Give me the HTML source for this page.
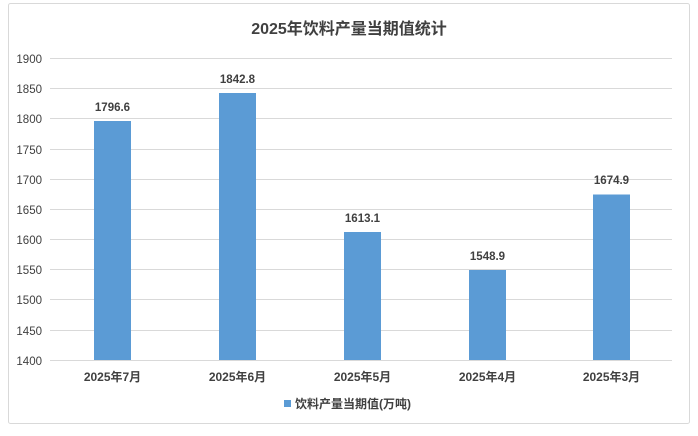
<!DOCTYPE html>
<html><head><meta charset="utf-8"><style>
body{margin:0;background:#fff;}
svg{display:block;font-family:"Liberation Sans","Noto Sans CJK SC",sans-serif;}
</style></head><body>
<svg width="698" height="436" viewBox="0 0 698 436">
<rect x="8.5" y="3.5" width="681" height="420" fill="#fff" stroke="#d9d9d9" rx="2"/>
<text x="349" y="34" text-anchor="middle" font-size="16" font-weight="bold" fill="#404040">2025年饮料产量当期值统计</text>
<g stroke="#d9d9d9" stroke-width="1">
<line x1="50" x2="672" y1="58.5" y2="58.5"/><line x1="50" x2="672" y1="88.5" y2="88.5"/>
<line x1="50" x2="672" y1="118.5" y2="118.5"/><line x1="50" x2="672" y1="149.5" y2="149.5"/>
<line x1="50" x2="672" y1="179.5" y2="179.5"/><line x1="50" x2="672" y1="209.5" y2="209.5"/>
<line x1="50" x2="672" y1="239.5" y2="239.5"/><line x1="50" x2="672" y1="269.5" y2="269.5"/>
<line x1="50" x2="672" y1="299.5" y2="299.5"/><line x1="50" x2="672" y1="330.5" y2="330.5"/>
<line x1="50" x2="672" y1="360.5" y2="360.5"/>
</g>
<g font-size="11.5" fill="#404040" text-anchor="end">
<text x="42" y="63">1900</text><text x="42" y="93">1850</text><text x="42" y="123">1800</text>
<text x="42" y="154">1750</text><text x="42" y="184">1700</text><text x="42" y="214">1650</text>
<text x="42" y="244">1600</text><text x="42" y="274">1550</text><text x="42" y="304">1500</text>
<text x="42" y="335">1450</text><text x="42" y="365">1400</text>
</g>
<g fill="#5b9bd5">
<rect x="94" y="121" width="37" height="239"/>
<rect x="219" y="93" width="37" height="267"/>
<rect x="344" y="232" width="37" height="128"/>
<rect x="469" y="270" width="37" height="90"/>
<rect x="593" y="194.5" width="37" height="165.5"/>
</g>
<g font-size="11.5" font-weight="bold" fill="#404040" text-anchor="middle">
<text x="112.5" y="111">1796.6</text><text x="237.5" y="83">1842.8</text>
<text x="362.5" y="222">1613.1</text><text x="487.5" y="260">1548.9</text>
<text x="611.5" y="184">1674.9</text>
</g>
<g font-size="12" font-weight="bold" fill="#404040" text-anchor="middle">
<text x="112.5" y="381">2025年7月</text><text x="237.5" y="381">2025年6月</text>
<text x="362.5" y="381">2025年5月</text><text x="487.5" y="381">2025年4月</text>
<text x="611.5" y="381">2025年3月</text>
</g>
<rect x="284" y="400" width="7" height="7" fill="#5b9bd5"/>
<text x="295" y="408" font-size="12" font-weight="bold" fill="#404040">饮料产量当期值(万吨)</text>
</svg>
</body></html>
